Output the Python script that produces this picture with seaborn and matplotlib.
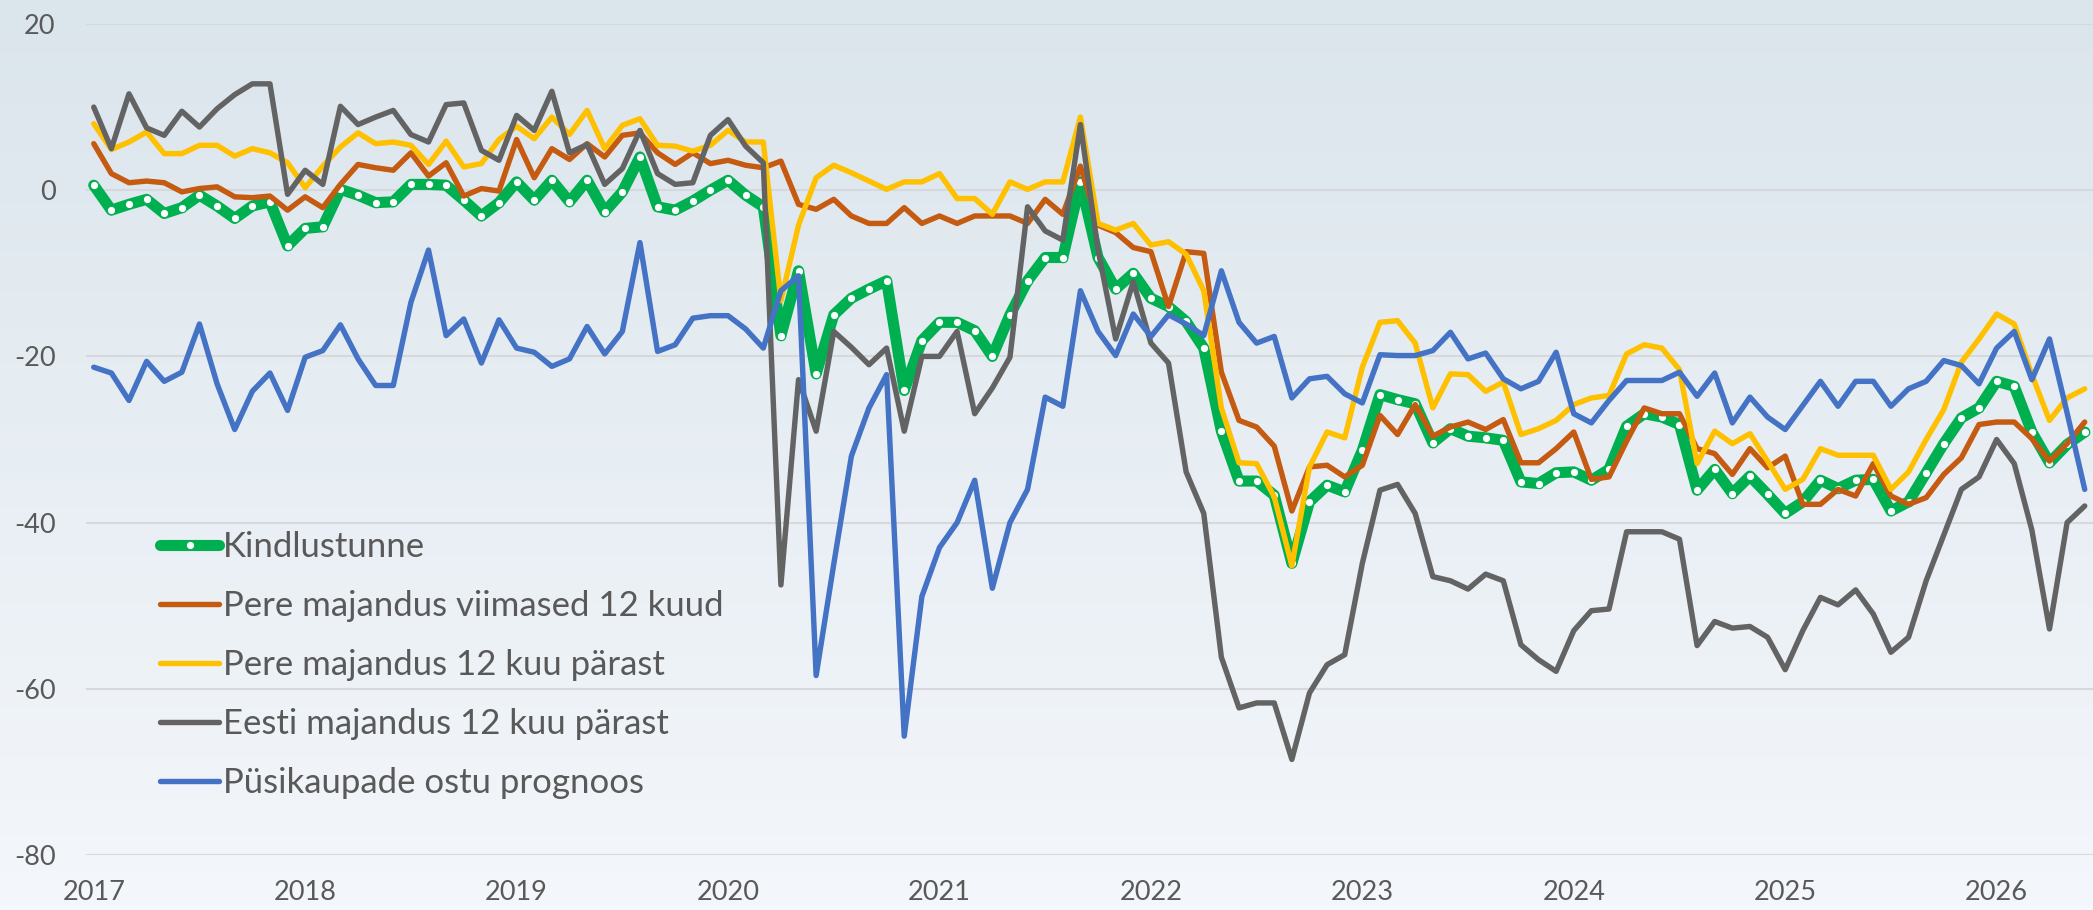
import numpy as np
import pandas as pd
import matplotlib
matplotlib.use("Agg")
import matplotlib.pyplot as plt
from matplotlib.colors import LinearSegmentedColormap
import seaborn as sns

# ---------------- data (monthly, Jan 2017 .. Jun 2026) ----------------
year_labels = ["2017", "2018", "2019", "2020", "2021", "2022", "2023", "2024", "2025", "2026"]

kindlustunne = [
    0.6, -2.4, -1.7, -1.1, -2.8, -2.1, -0.6, -1.9, -3.4, -1.9, -1.4, -6.7,
    -4.6, -4.4, 0.1, -0.6, -1.5, -1.4, 0.7, 0.7, 0.6, -1.2, -3.1, -1.5,
    1.0, -1.2, 1.2, -1.4, 1.2, -2.6, -0.2, 4.0, -2.0, -2.4, -1.3, 0.0,
    1.2, -0.6, -2.0, -17.5, -9.7, -22.1, -15.0, -13.0, -11.9, -10.9, -24.1, -18.1,
    -15.9, -15.9, -16.9, -20.0, -15.0, -10.9, -8.1, -8.1, 1.0, -8.1, -11.9, -10.0,
    -13.0, -14.0, -15.8, -19.0, -29.0, -35.0, -35.0, -36.7, -44.9, -37.5, -35.5, -36.3,
    -31.3, -24.6, -25.2, -25.7, -30.4, -28.7, -29.6, -29.8, -30.1, -35.1, -35.3, -34.0,
    -33.9, -34.9, -33.6, -28.4, -26.9, -27.3, -28.2, -36.1, -33.6, -36.5, -34.4, -36.6,
    -38.9, -37.5, -34.9, -35.9, -34.9, -34.8, -38.6, -37.5, -34.0, -30.5, -27.4, -26.2,
    -23.0, -23.6, -29.1, -32.8, -30.6, -29.1,
]

pere_viimased = [
    5.6, 2.0, 0.9, 1.1, 0.9, -0.2, 0.2, 0.4, -0.8, -0.9, -0.7, -2.4,
    -0.8, -2.1, 0.7, 3.1, 2.7, 2.4, 4.5, 1.7, 3.3, -0.7, 0.2, -0.1,
    6.1, 1.5, 5.0, 3.7, 5.6, 4.0, 6.6, 6.9, 4.5, 3.1, 4.5, 3.2,
    3.6, 3.0, 2.7, 3.5, -1.7, -2.3, -1.1, -3.1, -4.0, -4.0, -2.1, -4.0,
    -3.1, -4.0, -3.1, -3.1, -3.1, -4.0, -1.1, -2.9, 2.9, -4.2, -5.1, -6.9,
    -7.4, -14.0, -7.4, -7.6, -21.9, -27.7, -28.5, -30.8, -38.6, -33.3, -33.1, -34.5,
    -33.1, -27.1, -29.4, -25.8, -29.6, -28.5, -27.9, -28.8, -27.6, -32.8, -32.8, -31.1,
    -29.1, -34.8, -34.5, -30.2, -26.2, -26.9, -26.9, -31.1, -31.7, -34.2, -31.1, -33.4,
    -32.0, -37.8, -37.8, -36.0, -36.8, -32.9, -36.8, -37.8, -37.0, -34.2, -32.2, -28.2,
    -27.9, -27.9, -29.9, -32.6, -30.5, -27.9,
]

pere_parast = [
    8.0, 4.9, 5.8, 7.0, 4.4, 4.4, 5.4, 5.4, 4.1, 5.0, 4.5, 3.3,
    0.3, 2.9, 5.2, 6.9, 5.6, 5.8, 5.4, 3.1, 5.9, 2.8, 3.2, 6.1,
    7.7, 6.2, 8.8, 6.7, 9.6, 5.0, 7.8, 8.6, 5.4, 5.3, 4.7, 5.4,
    7.2, 5.8, 5.8, -13.3, -4.2, 1.5, 3.0, 2.1, 1.1, 0.1, 1.0, 1.0,
    2.0, -1.0, -1.0, -2.9, 1.0, 0.1, 1.0, 1.0, 8.8, -4.0, -4.8, -4.0,
    -6.6, -6.2, -7.7, -12.1, -26.2, -32.8, -32.9, -36.9, -45.2, -33.3, -29.1, -29.8,
    -21.3, -15.9, -15.7, -18.4, -26.2, -22.1, -22.2, -24.2, -23.1, -29.4, -28.7, -27.7,
    -25.8, -25.0, -24.7, -19.7, -18.6, -19.0, -21.6, -32.9, -29.0, -30.5, -29.3, -32.6,
    -36.0, -34.8, -31.1, -31.9, -31.9, -31.9, -36.0, -33.9, -30.0, -26.4, -20.7, -17.9,
    -14.9, -16.1, -22.2, -27.7, -25.0, -23.9,
]

eesti_parast = [
    10.0, 5.0, 11.6, 7.5, 6.6, 9.5, 7.6, 9.8, 11.5, 12.8, 12.8, -0.5,
    2.4, 0.7, 10.1, 7.9, 8.8, 9.6, 6.7, 5.8, 10.3, 10.5, 4.8, 3.6,
    9.0, 7.2, 11.9, 4.5, 5.5, 0.7, 2.6, 7.2, 2.0, 0.7, 0.9, 6.6,
    8.5, 5.3, 3.3, -47.5, -22.8, -29.0, -17.0, -18.9, -21.0, -19.0, -29.0, -20.0,
    -20.0, -17.0, -26.9, -23.8, -20.1, -2.0, -4.9, -6.0, 7.9, -7.2, -17.9, -11.0,
    -18.4, -20.8, -33.9, -38.9, -56.2, -62.3, -61.7, -61.7, -68.5, -60.5, -57.1, -55.9,
    -44.9, -36.1, -35.4, -38.9, -46.5, -47.0, -48.0, -46.2, -47.0, -54.7, -56.5, -57.9,
    -53.0, -50.6, -50.4, -41.1, -41.1, -41.1, -42.0, -54.8, -51.9, -52.7, -52.5, -53.8,
    -57.7, -53.0, -49.0, -49.9, -48.1, -51.0, -55.6, -53.8, -47.0, -41.5, -36.0, -34.5,
    -30.0, -32.9, -40.9, -52.8, -40.0, -38.0,
]

pusikaupade = [
    -21.3, -22.0, -25.3, -20.6, -23.0, -21.9, -16.1, -23.3, -28.8, -24.2, -22.0, -26.5,
    -20.1, -19.3, -16.2, -20.3, -23.5, -23.5, -13.5, -7.2, -17.5, -15.5, -20.8, -15.6,
    -19.0, -19.5, -21.2, -20.3, -16.4, -19.7, -17.0, -6.3, -19.4, -18.6, -15.4, -15.1,
    -15.1, -16.7, -19.0, -12.1, -10.3, -58.4, -45.0, -32.0, -26.2, -22.2, -65.7, -48.9,
    -43.0, -40.0, -34.9, -47.9, -40.0, -36.0, -24.9, -26.0, -12.1, -17.0, -19.9, -14.9,
    -17.6, -15.0, -16.1, -17.5, -9.7, -15.9, -18.4, -17.6, -25.0, -22.7, -22.4, -24.5,
    -25.6, -19.8, -19.9, -19.9, -19.3, -17.1, -20.3, -19.6, -22.7, -23.9, -23.0, -19.5,
    -26.9, -28.0, -25.3, -22.9, -22.9, -22.9, -21.9, -24.8, -22.0, -28.0, -24.9, -27.3,
    -28.8, -25.9, -23.0, -26.0, -23.0, -23.0, -26.0, -23.9, -23.0, -20.5, -21.1, -23.3,
    -19.0, -17.0, -22.8, -17.9, -26.8, -36.0,
]

series_names = [
    "Kindlustunne",
    "Pere majandus viimased 12 kuud",
    "Pere majandus 12 kuu pärast",
    "Eesti majandus 12 kuu pärast",
    "Püsikaupade ostu prognoos",
]
series_values = [kindlustunne, pere_viimased, pere_parast, eesti_parast, pusikaupade]
series_colors = ["#00B050", "#C55A11", "#FFC000", "#636363", "#4472C4"]

y_ticks = [-80, -60, -40, -20, 0, 20]
y_tick_labels = ["-80", "-60", "-40", "-20", "0", "20"]

# ---------------- figure ----------------
sns.set_style("white")
plt.rcParams["font.family"] = ["Lato", "DejaVu Sans"]
plt.rcParams["axes.unicode_minus"] = False

W, H = 2093, 910
fig = plt.figure(figsize=(W / 100, H / 100), dpi=100)

# background gradient over the whole figure
bg = fig.add_axes([0, 0, 1, 1], zorder=0)
grad = np.linspace(0, 1, 256).reshape(-1, 1)
cmap = LinearSegmentedColormap.from_list("bg", ["#DBE5EC", "#F4F7FB"])
bg.imshow(grad, aspect="auto", cmap=cmap, extent=[0, 1, 0, 1], origin="upper")
bg.set_axis_off()

left_px, right_px, top_px, bot_px = 86, 2093, 24, 855
ax = fig.add_axes([left_px / W, 1 - bot_px / H, (right_px - left_px) / W, (bot_px - top_px) / H], zorder=1)
ax.patch.set_alpha(0)

n = len(kindlustunne)
df = pd.DataFrame({"month": np.arange(n)})
for name, vals in zip(series_names, series_values):
    df[name] = vals

for k, (name, color) in enumerate(zip(series_names, series_colors)):
    if k == 0:
        sns.lineplot(data=df, x="month", y=name, ax=ax, color=color, linewidth=8.0,
                     marker="o", markersize=6.0, markerfacecolor="white",
                     markeredgecolor=color, markeredgewidth=0.8, label=name,
                     solid_joinstyle="round", solid_capstyle="round", zorder=2 + k)
    else:
        sns.lineplot(data=df, x="month", y=name, ax=ax, color=color, linewidth=3.9,
                     label=name, solid_joinstyle="round", solid_capstyle="round",
                     zorder=2 + k)

ax.set_xlim(-0.44, 113.47)
ax.set_ylim(-80, 20)
ax.set_yticks(y_ticks)
ax.set_yticklabels(y_tick_labels)
ax.set_xticks(np.arange(len(year_labels)) * 12)
ax.set_xticklabels(year_labels)
ax.set_xlabel("")
ax.set_ylabel("")
ax.grid(axis="y", color="#D6D8DB", linewidth=1.5, zorder=1)
ax.grid(axis="x", visible=False)
for s in ax.spines.values():
    s.set_visible(False)
ax.tick_params(axis="both", length=0, labelcolor="#595959", labelsize=19.5)
ax.tick_params(axis="y", pad=22)
ax.tick_params(axis="x", pad=18)
ax.set_axisbelow(True)

handles, labels = ax.get_legend_handles_labels()
leg = ax.legend(handles, labels, loc="upper left", bbox_to_anchor=(0.037, 0.390),
                frameon=False, fontsize=25, handlelength=1.7, handletextpad=0.1,
                labelspacing=0.78, borderpad=0, borderaxespad=0)
for t in leg.get_texts():
    t.set_color("#595959")

fig.savefig("out.png", dpi=100)
